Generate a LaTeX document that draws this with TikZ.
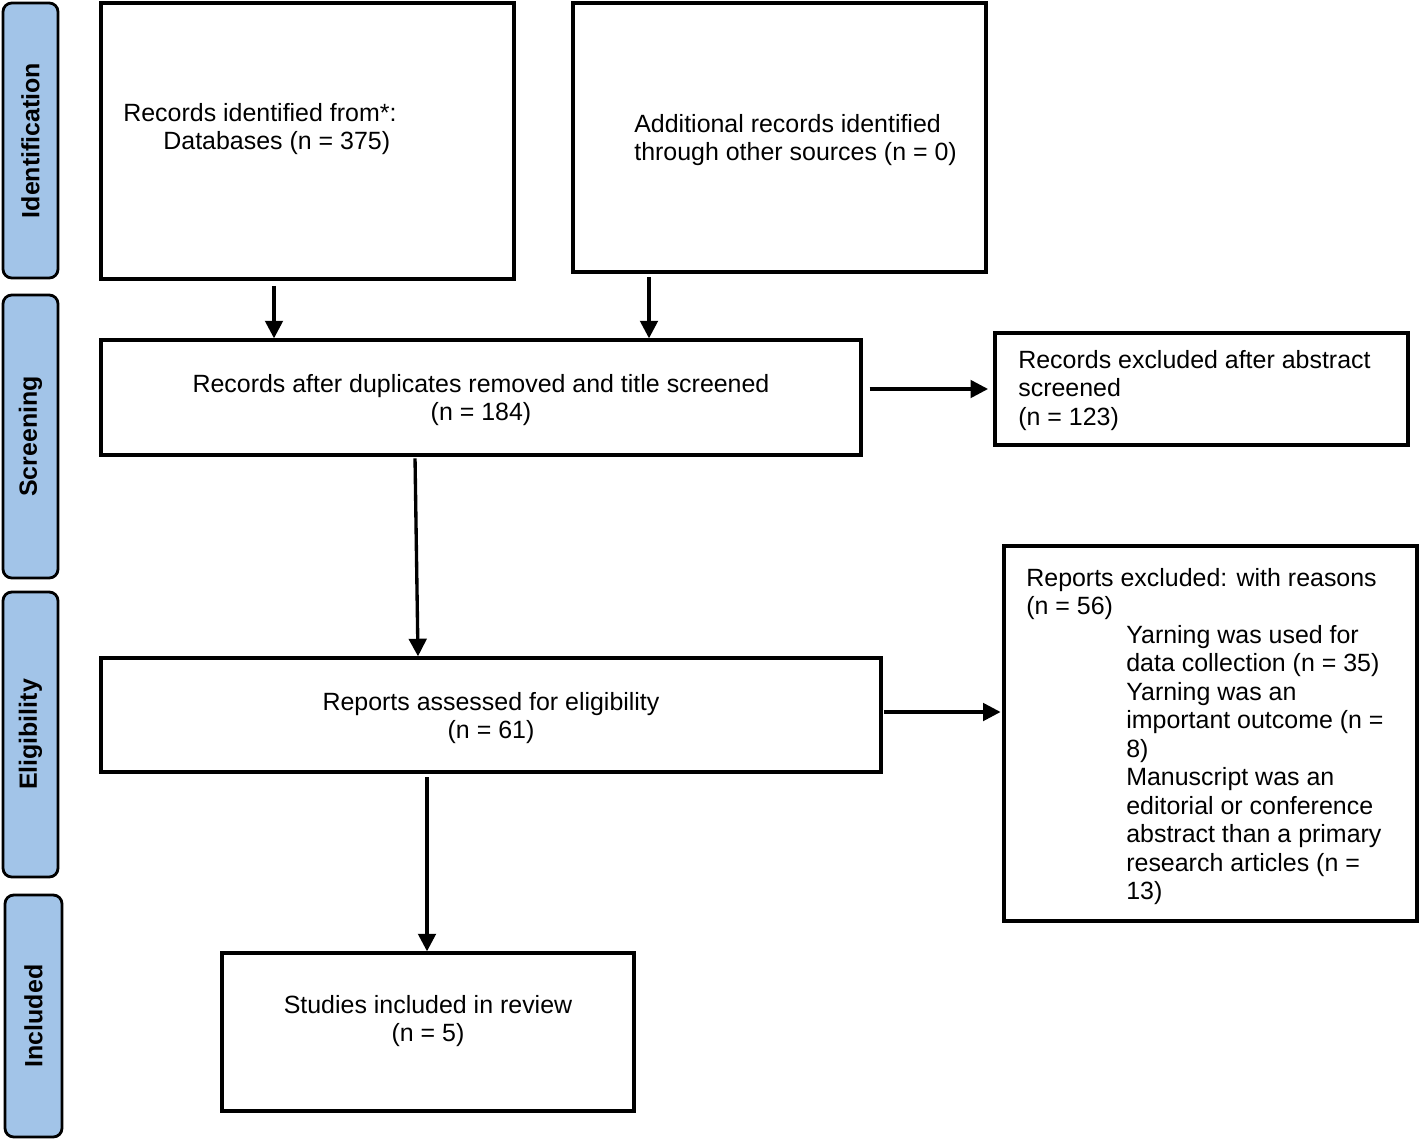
\documentclass[tikz,border=0pt]{standalone}
\usepackage{fontspec}
\setmainfont{Liberation Sans}
\usetikzlibrary{arrows.meta,fit}
\definecolor{sideblue}{RGB}{162,196,232}
\begin{document}
\begin{tikzpicture}[x=0.02cm,y=-0.02cm,
  box/.style={draw=black,line width=1.9pt,inner sep=0pt,fill=white},
  side/.style={draw=black,line width=1.6pt,inner sep=0pt,fill=sideblue,rounded corners=5pt},
  sidetext/.style={rotate=90,font=\fontsize{14.2}{16.2}\selectfont\bfseries,inner sep=0pt},
  txt/.style={font=\fontsize{14.2}{16.2}\selectfont,inner sep=0pt},
  arr/.style={line width=1.9pt,-{Triangle[length=10pt,width=10pt]}}]
\useasboundingbox (0,0) rectangle (1423,1140);
% side bars
\node[side,fit={(3,3)(58,278)}] (S1) {};
\node[sidetext] (S1t) at (S1) {Identification};
\node[side,fit={(3,295)(58,578)}] (S2) {};
\node[sidetext] (S2t) at (S2) {Screening};
\node[side,fit={(3,592)(58,877)}] (S3) {};
\node[sidetext] (S3t) at (S3) {Eligibility};
\node[side,fit={(5,895)(62,1137)}] (S4) {};
\node[sidetext] (S4t) at (S4) {Included};
% boxes
\node[box,fit={(101,3)(514,279)}] (A) {};
\node[txt,anchor=north west,align=left] (At) at (123,103) {Records identified from*:\\\hspace*{22.8pt}Databases (n = 375)};
\node[box,fit={(573,3)(986,272)}] (B) {};
\node[txt,anchor=north west,align=left] (Bt) at (634,114) {Additional records identified\\through other sources (n = 0)};
\node[box,fit={(101,340)(861,455)}] (C) {};
\node[txt,anchor=north,align=center] (Ct) at (481,374) {Records after duplicates removed and title screened\\(n = 184)};
\node[box,fit={(995,333)(1408,445)}] (D) {};
\node[txt,anchor=north west,align=left] (Dt) at (1018,350) {Records excluded after abstract\\screened\\(n = 123)};
\node[box,fit={(101,658)(881,772)}] (E) {};
\node[txt,anchor=north,align=center] (Et) at (491,692) {Reports assessed for eligibility\\(n = 61)};
\node[box,fit={(1004,546)(1417,921)}] (F) {};
\node[txt,anchor=north west,align=left] (Ft) at (1026,568) {Reports excluded: with reasons\\(n = 56)\\
\hspace*{56.9pt}Yarning was used for\\
\hspace*{56.9pt}data collection (n = 35)\\
\hspace*{56.9pt}Yarning was an\\
\hspace*{56.9pt}important outcome (n =\\
\hspace*{56.9pt}8)\\
\hspace*{56.9pt}Manuscript was an\\
\hspace*{56.9pt}editorial or conference\\
\hspace*{56.9pt}abstract than a primary\\
\hspace*{56.9pt}research articles (n =\\
\hspace*{56.9pt}13)};
\node[box,fit={(222,953)(634,1111)}] (G) {};
\node[txt,anchor=north,align=center] (Gt) at (428,995) {Studies included in review\\(n = 5)};
% connector helper coordinates
\coordinate (xa) at (274,0);
\coordinate (xb) at (649,0);
\coordinate (xc1) at (415,0);
\coordinate (xc2) at (418,0);
\coordinate (xe) at (427,0);
\coordinate (yd) at (0,389);
\coordinate (yf) at (0,712);
% connectors
\draw[arr,shorten <=3pt] (A.south -| xa) -- (C.north -| xa);
\draw[arr,shorten <=2pt] (B.south -| xb) -- (C.north -| xb);
\draw[arr,shorten <=4pt,shorten >=3pt] (C.east |- yd) -- (D.west |- yd);
\draw[arr,shorten <=1pt] (C.south -| xc1) -- (E.north -| xc2);
\draw[arr,shorten <=1pt,shorten >=1pt] (E.east |- yf) -- (F.west |- yf);
\draw[arr,shorten <=2pt] (E.south -| xe) -- (G.north -| xe);
\end{tikzpicture}
\end{document}
